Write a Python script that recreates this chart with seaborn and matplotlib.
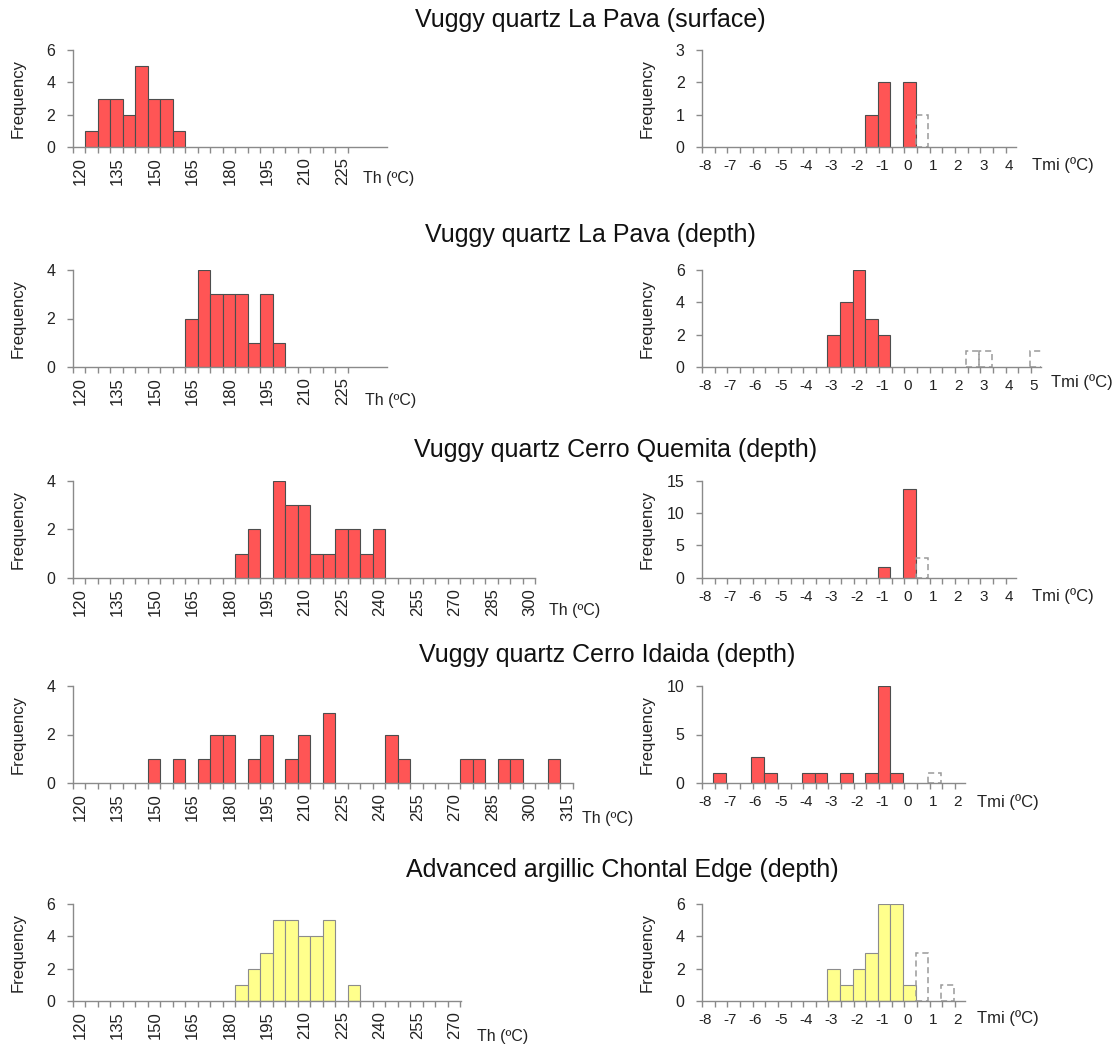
import numpy as np
import pandas as pd
import seaborn as sns
import matplotlib.pyplot as plt
import matplotlib.transforms as mtransforms

########################## DATA ##########################
# Th histograms, bin width 5 ºC, value = left edge of each bin
th_surface_from = [125, 130, 135, 140, 145, 150, 155, 160]
th_surface_n = [1, 3, 3, 2, 5, 3, 3, 1]

th_depth_from = [165, 170, 175, 180, 185, 190, 195, 200]
th_depth_n = [2, 4, 3, 3, 3, 1, 3, 1]

th_quemita_from = [185, 190, 200, 205, 210, 215, 220, 225, 230, 235, 240]
th_quemita_n = [1, 2, 4, 3, 3, 1, 1, 2, 2, 1, 2]

th_idaida_from = [150, 160, 170, 175, 180, 190, 195, 205, 210, 220,
                  245, 250, 275, 280, 290, 295, 310]
th_idaida_n = [1, 1, 1, 2, 2, 1, 2, 1, 2, 2.9, 2, 1, 1, 1, 1, 1, 1]

th_chontal_from = [185, 190, 195, 200, 205, 210, 215, 220, 230]
th_chontal_n = [1, 2, 3, 5, 5, 4, 4, 5, 1]

# Tmi histograms, bin width 0.5 ºC, value = left edge of each bin
tmi_surface_from = [-1.55, -1.05, -0.05]
tmi_surface_n = [1, 2, 2]
tmi_surface_dash_from = [0.45]
tmi_surface_dash_n = [1]

tmi_depth_from = [-3.05, -2.55, -2.05, -1.55, -1.05]
tmi_depth_n = [2, 4, 6, 3, 2]
tmi_depth_dash_from = [2.45, 2.95, 4.95]
tmi_depth_dash_n = [1, 1, 1]

tmi_quemita_from = [-1.05, -0.05]
tmi_quemita_n = [1.7, 13.7]
tmi_quemita_dash_from = [0.45]
tmi_quemita_dash_n = [3]

tmi_idaida_from = [-7.55, -6.05, -5.55, -4.05, -3.55, -2.55, -1.55, -1.05, -0.55]
tmi_idaida_n = [1, 2.7, 1, 1, 1, 1, 1, 10, 1]
tmi_idaida_dash_from = [0.95]
tmi_idaida_dash_n = [1]

tmi_chontal_from = [-3.05, -2.55, -2.05, -1.55, -1.05, -0.55, -0.05]
tmi_chontal_n = [2, 1, 2, 3, 6, 6, 1]
tmi_chontal_dash_from = [0.45, 1.45]
tmi_chontal_dash_n = [3, 1]

titles = ["Vuggy quartz La Pava (surface)",
          "Vuggy quartz La Pava (depth)",
          "Vuggy quartz Cerro Quemita (depth)",
          "Vuggy quartz Cerro Idaida (depth)",
          "Advanced argillic Chontal Edge (depth)"]

RED = "#ff5555"
YELLOW = "#ffff8c"

############################## HELPERS ##############################
W, H = 1114, 1048


def px_axes(fig, x0, x1, ytop, ybot):
    return fig.add_axes([x0 / W, 1 - ybot / H, (x1 - x0) / W, (ybot - ytop) / H])


def px_text(fig, x, y, s, **kw):
    fig.text(x / W, 1 - y / H, s, **kw)


def draw_hist(ax, starts, counts, width, **kw):
    starts = np.array(starts, dtype=float)
    lo, hi = starts.min(), starts.max() + width
    df = pd.DataFrame({"t": starts + width / 2, "n": counts})
    n_before = len(ax.patches)
    sns.histplot(data=df, x="t", weights="n", binwidth=width,
                 binrange=(lo, hi), ax=ax, **kw)
    # empty bins would draw a line on the axis
    for p in ax.patches[n_before:]:
        if p.get_height() == 0:
            p.set_visible(False)


def style(ax, xlim, xstep, lstep, ylim, yticks, rotate):
    ax.set_xlim(xlim)
    ax.set_ylim(ylim)
    ticks = np.arange(xlim[0], xlim[1] + 1e-6, xstep)
    labels = []
    for t in ticks:
        if abs(round((t - xlim[0]) / lstep) * lstep - (t - xlim[0])) < 1e-6:
            labels.append("%d" % round(t))
        else:
            labels.append("")
    ax.set_xticks(ticks)
    ax.set_xticklabels(labels, rotation=90 if rotate else 0)
    ax.set_yticks(yticks)
    ax.set_yticklabels(["%d" % v for v in yticks])
    ax.set_xlabel("")
    ax.set_ylabel("")
    sns.despine(ax=ax)
    for s in ("left", "bottom"):
        ax.spines[s].set_color("#8a8a8a")
        ax.spines[s].set_linewidth(1.0)
    ax.tick_params(axis="both", colors="#8a8a8a", labelcolor="#222222",
                   length=4.5, width=1.0)
    ax.tick_params(axis="y", pad=8, labelsize=11.5)
    if rotate:
        ax.tick_params(axis="x", pad=3, labelsize=12)
        dx = 0.075
    else:
        ax.tick_params(axis="x", pad=4, labelsize=11)
        dx = 0.03
    off = mtransforms.ScaledTranslation(dx, 0, ax.figure.dpi_scale_trans)
    for lab in ax.get_xticklabels():
        lab.set_transform(lab.get_transform() + off)


############################## FIGURE ##############################
sns.set_style("ticks")
plt.rcParams["font.family"] = ["Liberation Sans", "DejaVu Sans"]

fig = plt.figure(figsize=(W / 100, H / 100), dpi=100)

bar_red = dict(color=RED, edgecolor="#4d4d4d", linewidth=0.8, alpha=1)
bar_yel = dict(color=YELLOW, edgecolor="#8c8c8c", linewidth=0.8, alpha=1)
dash = dict(fill=False, color="#9a9a9a", linewidth=1.1, linestyle=(0, (4, 2.5)))

TH_X0, TH_PPU = 72.5, 2.5       # y-axis position (px) and px per ºC, left column
TMI_X0, TMI_PPU = 702, 25.3     # same for right column

# (ytop, ybot, data, counts, xmax, ymax, yticks, bar style)
left_rows = [
    (50, 147, th_surface_from, th_surface_n, 245.6, 6, [0, 2, 4, 6], bar_red),
    (270, 367, th_depth_from, th_depth_n, 245.6, 4, [0, 2, 4], bar_red),
    (481, 577.7, th_quemita_from, th_quemita_n, 305, 4, [0, 2, 4], bar_red),
    (686, 783, th_idaida_from, th_idaida_n, 320, 4, [0, 2, 4], bar_red),
    (904, 1001, th_chontal_from, th_chontal_n, 275.5, 6, [0, 2, 4, 6], bar_yel),
]
left_tick_end = [230, 230, 305, 320, 275]

right_rows = [
    (tmi_surface_from, tmi_surface_n, tmi_surface_dash_from, tmi_surface_dash_n, 4.41, 3, [0, 1, 2, 3], bar_red),
    (tmi_depth_from, tmi_depth_n, tmi_depth_dash_from, tmi_depth_dash_n, 5.41, 6, [0, 2, 4, 6], bar_red),
    (tmi_quemita_from, tmi_quemita_n, tmi_quemita_dash_from, tmi_quemita_dash_n, 4.41, 15, [0, 5, 10, 15], bar_red),
    (tmi_idaida_from, tmi_idaida_n, tmi_idaida_dash_from, tmi_idaida_dash_n, 2.4, 10, [0, 5, 10], bar_red),
    (tmi_chontal_from, tmi_chontal_n, tmi_chontal_dash_from, tmi_chontal_dash_n, 2.4, 6, [0, 2, 4, 6], bar_yel),
]

title_pos = [(590, 20), (590, 235), (616, 450), (607, 655), (622, 870)]
th_label_pos = [(363, 178), (365, 401), (549, 610), (582, 818), (477, 1037)]
tmi_label_pos = [(1032, 165), (1051, 382), (1032, 596), (977, 802), (977, 1018)]

for i in range(5):
    # ---- Th (left) ----
    yt, yb, starts, counts, xmax, ymax, yticks, kw = left_rows[i]
    ax = px_axes(fig, TH_X0, TH_X0 + (xmax - 120) * TH_PPU, yt, yb)
    draw_hist(ax, starts, counts, 5, **kw)
    style(ax, (120, left_tick_end[i]), 5, 15, (0, ymax), yticks, True)
    ax.set_xlim(120, xmax)
    px_text(fig, 18, (yt + yb) / 2, "Frequency", rotation=90, ha="center",
            va="center", fontsize=12, color="#222222")
    px_text(fig, th_label_pos[i][0], th_label_pos[i][1], "Th (ºC)", ha="left",
            va="center", fontsize=11.5, color="#222222")

    # ---- Tmi (right) ----
    starts, counts, dstarts, dcounts, xmax, ymax, yticks, kw = right_rows[i]
    ax = px_axes(fig, TMI_X0, TMI_X0 + (xmax + 8) * TMI_PPU, yt, yb)
    draw_hist(ax, starts, counts, 0.5, **kw)
    draw_hist(ax, dstarts, dcounts, 0.5, **dash)
    style(ax, (-8, np.floor(xmax)), 0.5, 1, (0, ymax), yticks, False)
    ax.set_xlim(-8, xmax)
    px_text(fig, 647, (yt + yb) / 2, "Frequency", rotation=90, ha="center",
            va="center", fontsize=12, color="#222222")
    px_text(fig, tmi_label_pos[i][0], tmi_label_pos[i][1], "Tmi (ºC)", ha="left",
            va="center", fontsize=12, color="#222222")

    px_text(fig, title_pos[i][0], title_pos[i][1], titles[i], ha="center",
            va="center", fontsize=18, color="#111111")

fig.savefig("out.png", dpi=100)
